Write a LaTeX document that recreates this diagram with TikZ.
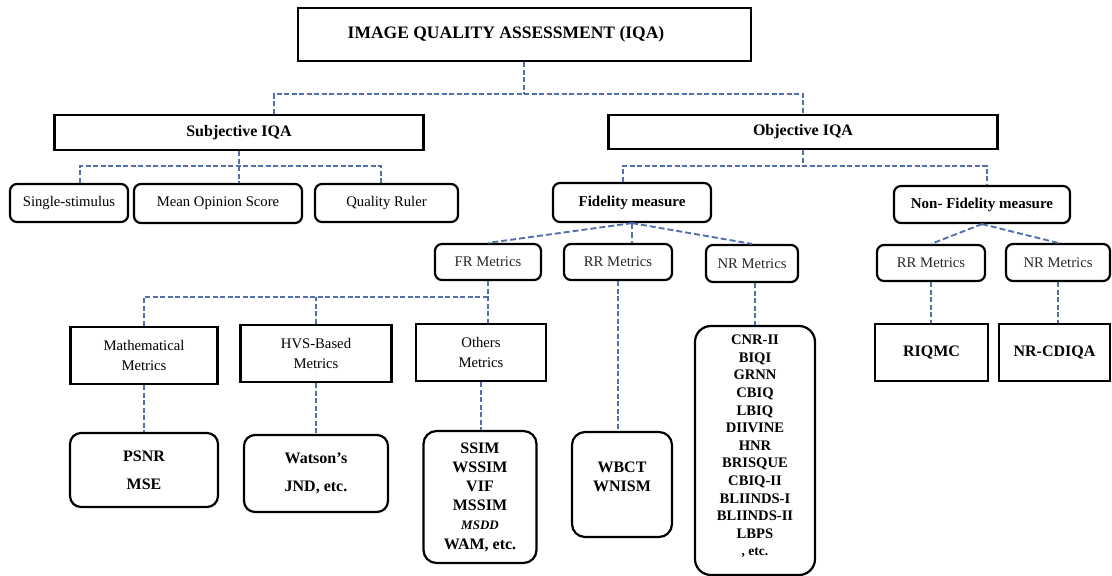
\documentclass[tikz,border=0pt]{standalone}
\usepackage{fontspec}
\setmainfont{Liberation Serif}
\usetikzlibrary{calc}
\definecolor{connblue}{RGB}{84,112,170}
\definecolor{txtgray}{RGB}{40,40,40}
\newcommand\fTitle{\fontsize{17.5}{19}\selectfont\bfseries}
\newcommand\fHead{\fontsize{16}{19}\selectfont\bfseries}
\newcommand\fMid{\fontsize{15}{18}\selectfont\bfseries}
\newcommand\fReg{\fontsize{14.7}{20}\selectfont}
\newcommand\fList{\fontsize{16}{19.2}\selectfont\bfseries}
\newcommand\fNR{\fontsize{14.6}{17.6}\selectfont\bfseries}
\begin{document}
\begin{tikzpicture}[x=1pt,y=-1pt,
  sqplain/.style={draw=black, line width=2.2pt, rectangle, inner sep=0pt},
  sq/.style={sqplain, align=center},
  rd/.style={sq, rounded corners=7pt},
  rdl/.style={sq, rounded corners=13pt},
  conn/.style={draw=connblue, line width=1.4pt, dash pattern=on 5pt off 2.5pt},
  conn2/.style={draw=connblue, line width=1.9pt, dash pattern=on 6pt off 3pt}]
\useasboundingbox (0,0) rectangle (1112,576);
\fill[white] (0,0) rectangle (1112,576);

% level 0
\node[sqplain, line width=2pt, minimum width=453pt, minimum height=53pt, font=\fTitle] (top) at (524,34.5) {IMAGE QUALITY ASSESSMENT (IQA)\kern36pt};
% level 1
\node[sq, minimum width=369pt, minimum height=35pt, font=\fHead] (subj) at (239,132.5) {Subjective IQA};
\node[sq, minimum width=389pt, minimum height=34pt, font=\fHead] (obj) at (803,132) {Objective IQA};
% subjective children
\node[rd, minimum width=118pt, minimum height=38pt, font=\fReg] (ss) at (69,203) {Single-stimulus};
\node[rd, minimum width=168pt, minimum height=39pt, font=\fReg] (mos) at (218,203.5) {Mean Opinion Score};
\node[rd, minimum width=143pt, minimum height=38pt, font=\fReg] (qr) at (386.5,203) {Quality Ruler};
% objective children
\node[rd, minimum width=158pt, minimum height=39pt, font=\fMid] (fid) at (632,202.5) {Fidelity measure};
\node[rd, minimum width=176pt, minimum height=37pt, font=\fMid] (nonfid) at (982,204.5) {Non- Fidelity measure};
% metric classes
\node[rd, minimum width=106pt, minimum height=36pt, font=\fReg, text=txtgray] (fr) at (488,262) {FR Metrics};
\node[rd, minimum width=108pt, minimum height=36pt, font=\fReg, text=txtgray] (rr1) at (618,262) {RR Metrics};
\node[rd, minimum width=92pt, minimum height=37pt, font=\fReg, text=txtgray] (nr1) at (752,263.5) {NR Metrics};
\node[rd, minimum width=108pt, minimum height=36pt, font=\fReg, text=txtgray] (rr2) at (931,263) {RR Metrics};
\node[rd, minimum width=104pt, minimum height=37pt, font=\fReg, text=txtgray] (nr2) at (1058,262.5) {NR Metrics};
% FR sub-classes
\node[sq, minimum width=147pt, minimum height=57pt, font=\fReg] (math) at (144,355.5) {Mathematical\\Metrics};
\node[sq, minimum width=151pt, minimum height=57pt, font=\fReg] (hvs) at (316,353.5) {HVS-Based\\Metrics};
\node[sq, minimum width=130pt, minimum height=57pt, font=\fReg] (oth) at (481,352.5) {Others\\Metrics};
% leaves
\node[rd, rounded corners=11pt, minimum width=148pt, minimum height=74pt, font=\fontsize{16}{28}\selectfont\bfseries] (psnr) at (144,470) {PSNR\\MSE};
\node[rd, rounded corners=11pt, minimum width=144pt, minimum height=77pt, font=\fontsize{16}{28}\selectfont\bfseries] (wat) at (316,473.5) {Watson’s\\JND, etc.};
\node[rdl, minimum width=113pt, minimum height=132pt, font=\fList] (ssim) at (480,497) {SSIM\\WSSIM\\VIF\\MSSIM\\{\fontsize{13}{19.2}\selectfont\itshape MSDD}\\WAM, etc.};
\node[rdl, minimum width=100pt, minimum height=105pt] (wbct) at (622,484.5) {};
\node[font=\fList, align=center, inner sep=0pt, yshift=8pt] (wbcttxt) at (wbct.center) {WBCT\\WNISM};
\node[rdl, rounded corners=16pt, minimum width=120pt, minimum height=249pt] (nrl) at (755,450.5) {};
\node[font=\fNR, align=center, inner sep=0pt, yshift=4pt] (nrltxt) at (nrl.center) {CNR-II\\BIQI\\GRNN\\CBIQ\\LBIQ\\DIIVINE\\HNR\\BRISQUE\\CBIQ-II\\BLIINDS-I\\BLIINDS-II\\LBPS\\{\fontsize{13.5}{17.6}\selectfont\bfseries , etc.}};
\node[sq, minimum width=113pt, minimum height=57pt, font=\fHead] (riq) at (931.5,352.5) {RIQMC};
\node[sq, minimum width=111pt, minimum height=57pt, font=\fHead] (nrc) at (1054.5,352.5) {NR-CDIQA};

% connectors: root
\coordinate (jl) at (274,94);
\coordinate (jr) at (803,94);
\draw[conn] (top.south) -- (top.south |- jl);
\draw[conn] (jl |- subj.north) -- (jl) -- (jr) -- (jr |- obj.north);
% subjective
\coordinate (s1) at (80,166);
\coordinate (s3) at (381,166);
\draw[conn] (subj.south) -- (subj.south |- mos.north);
\draw[conn] (s1 |- ss.north) -- (s1) -- (s3) -- (s3 |- qr.north);
% objective
\coordinate (o1) at (623,166);
\coordinate (o2) at (987,166);
\draw[conn] (obj.south) -- (obj.south |- o1);
\draw[conn] (o1 |- fid.north) -- (o1) -- (o2) -- (o2 |- nonfid.north);
% fidelity
\draw[conn2] (fid.south) -- (fr.north);
\draw[conn2] (fid.south) -- (fid.south |- rr1.north);
\draw[conn2] (fid.south) -- (nr1.north);
% non-fidelity
\draw[conn2] (nonfid.south) -- (rr2.north);
\draw[conn2] (nonfid.south) -- (nr2.north);
% FR bus
\coordinate (f1) at (144,297);
\draw[conn] (fr.south) -- (fr.south |- oth.north);
\draw[conn] (math.north) -- (math.north |- f1) -- (fr.south |- f1);
\draw[conn] (hvs.north) -- (hvs.north |- f1);
% leaves
\draw[conn] (math.south) -- (math.south |- psnr.north);
\draw[conn] (hvs.south) -- (hvs.south |- wat.north);
\draw[conn] (oth.south) -- (oth.south |- ssim.north);
\draw[conn] (rr1.south) -- (rr1.south |- wbct.north);
\draw[conn] (nrl.north |- nr1.south) -- (nrl.north);
\draw[conn] (rr2.south) -- (rr2.south |- riq.north);
\draw[conn] (nr2.south) -- (nr2.south |- nrc.north);
\end{tikzpicture}
\end{document}
